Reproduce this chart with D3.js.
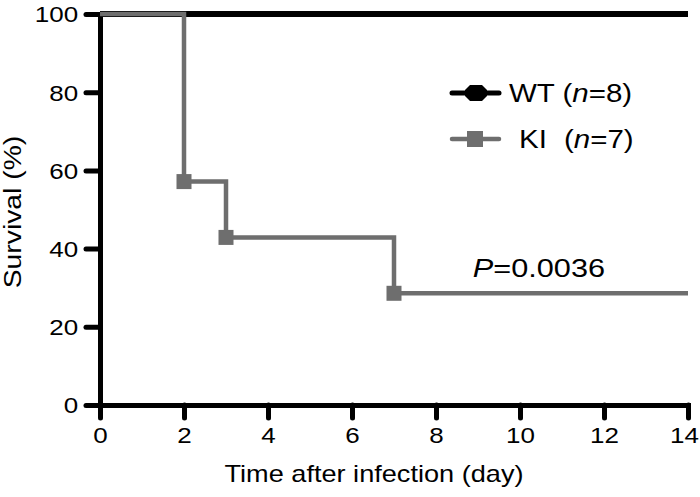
<!DOCTYPE html>
<html>
<head>
<meta charset="utf-8">
<script src="https://cdn.jsdelivr.net/npm/d3@7"></script>
<style>
  body { margin: 0; background: #fff; }
  svg text { font-family: "Liberation Sans", Arial, sans-serif; fill: #000; }
</style>
</head>
<body>
<div id="chart"></div>
<script>
// survival data (day, percent)
const wtDays = [0, 14];
const wtSurvival = [100, 100];
const kiDays = [0, 2, 3, 7, 14];
const kiSurvival = [100, 57.14, 42.86, 28.57, 28.57];
const kiEventDays = [2, 3, 7];
const xTicks = [0, 2, 4, 6, 8, 10, 12, 14];
const yTicks = [0, 20, 40, 60, 80, 100];
const legendLabels = ["WT", "KI"];
const legendN = ["8", "7"];
const pValue = "0.0036";

const width = 700, height = 497;
const margin = {top: 14, right: 12, bottom: 92, left: 100};
const black = "#000", grey = "#6e6e6e";
// the original lettering is a little wider than Arial
const stretch = "scale(1.18,1)";

const svg = d3.select("#chart").append("svg")
  .attr("width", width).attr("height", height);

const x = d3.scaleLinear().domain([0, 14]).range([margin.left, width - margin.right]);
const y = d3.scaleLinear().domain([0, 100]).range([height - margin.bottom, margin.top]);

// axes
const xAxis = svg.append("g")
  .attr("transform", "translate(0," + y(0) + ")")
  .call(d3.axisBottom(x).tickValues(xTicks).tickSize(13).tickPadding(9).tickSizeOuter(0));
const yAxis = svg.append("g")
  .attr("transform", "translate(" + x(0) + ",0)")
  .call(d3.axisLeft(y).tickValues(yTicks).tickSize(14).tickPadding(4.6).tickSizeOuter(0));

[xAxis, yAxis].forEach(g => {
  g.select(".domain").attr("stroke", black).attr("stroke-width", 5).attr("stroke-linecap", "square");
  g.selectAll(".tick line").attr("stroke", black).attr("stroke-width", 5).attr("stroke-linecap", "round");
  g.selectAll(".tick text").attr("font-size", 22).attr("fill", black)
    .attr("transform", stretch)
    .style("font-family", '"Liberation Sans", Arial, sans-serif');
});
xAxis.selectAll(".tick text").attr("dy", "0.72em");
yAxis.selectAll(".tick text").attr("dy", "0.36em");
// last label is nudged in so it stays on the page
xAxis.selectAll(".tick text").filter(d => d === 14).attr("dx", -4 / 1.18);

// survival step lines
const line = d3.line().x(d => x(d[0])).y(d => y(d[1])).curve(d3.curveStepAfter);

svg.append("path")
  .datum(d3.zip(wtDays, wtSurvival))
  .attr("d", line)
  .attr("fill", "none").attr("stroke", black).attr("stroke-width", 6);

svg.append("path")
  .datum(d3.zip(kiDays, kiSurvival))
  .attr("d", line)
  .attr("fill", "none").attr("stroke", grey).attr("stroke-width", 4.5);

// KI markers at deaths
const kiMap = new Map(d3.zip(kiDays, kiSurvival));
svg.selectAll(".kimark")
  .data(kiEventDays)
  .join("rect")
  .attr("x", d => x(d) - 7.5).attr("y", d => y(kiMap.get(d)) - 7.5)
  .attr("width", 15).attr("height", 15)
  .attr("fill", grey);

// legend
const legendY = [93, 139];
const lg = svg.append("g");
legendLabels.forEach((lab, i) => {
  const col = i === 0 ? black : grey;
  lg.append("line")
    .attr("x1", 452).attr("x2", 499)
    .attr("y1", legendY[i]).attr("y2", legendY[i])
    .attr("stroke", col).attr("stroke-width", i === 0 ? 5 : 4.5)
    .attr("stroke-linecap", "round");
  if (i === 0) {
    const cx = 476, cy = legendY[i];
    lg.append("path")
      .attr("d", `M${cx-11},${cy-3} L${cx-6},${cy-8} L${cx+6},${cy-8} L${cx+11},${cy-3}
                  L${cx+11},${cy+3} L${cx+6},${cy+8} L${cx-6},${cy+8} L${cx-11},${cy+3} Z`)
      .attr("fill", black);
  } else {
    lg.append("rect")
      .attr("x", 467).attr("y", legendY[i] - 8)
      .attr("width", 16).attr("height", 16).attr("fill", grey);
  }
  const t = lg.append("g")
    .attr("transform", `translate(${i === 0 ? 509 : 519},${legendY[i]}) ${stretch}`)
    .append("text")
    .attr("dy", "0.36em")
    .attr("font-size", 25);
  t.append("tspan").text(lab + " ");
  const paren = t.append("tspan").text("(");
  if (i === 1) paren.attr("x", (564 - 519) / 1.18);
  t.append("tspan").attr("font-style", "italic").text("n");
  t.append("tspan").text("=" + legendN[i] + ")");
});

// p-value
const pt = svg.append("g")
  .attr("transform", `translate(605,277) ${stretch}`)
  .append("text")
  .attr("text-anchor", "end")
  .attr("font-size", 26);
pt.append("tspan").attr("font-style", "italic").text("P");
pt.append("tspan").text("=" + pValue);

// axis titles
svg.append("g")
  .attr("transform", `translate(374,482) ${stretch}`)
  .append("text")
  .attr("text-anchor", "middle")
  .attr("font-size", 23)
  .text("Time after infection (day)");

svg.append("g")
  .attr("transform", `translate(21,212) rotate(-90) ${stretch}`)
  .append("text")
  .attr("text-anchor", "middle")
  .attr("font-size", 24)
  .text("Survival (%)");
</script>
</body>
</html>
